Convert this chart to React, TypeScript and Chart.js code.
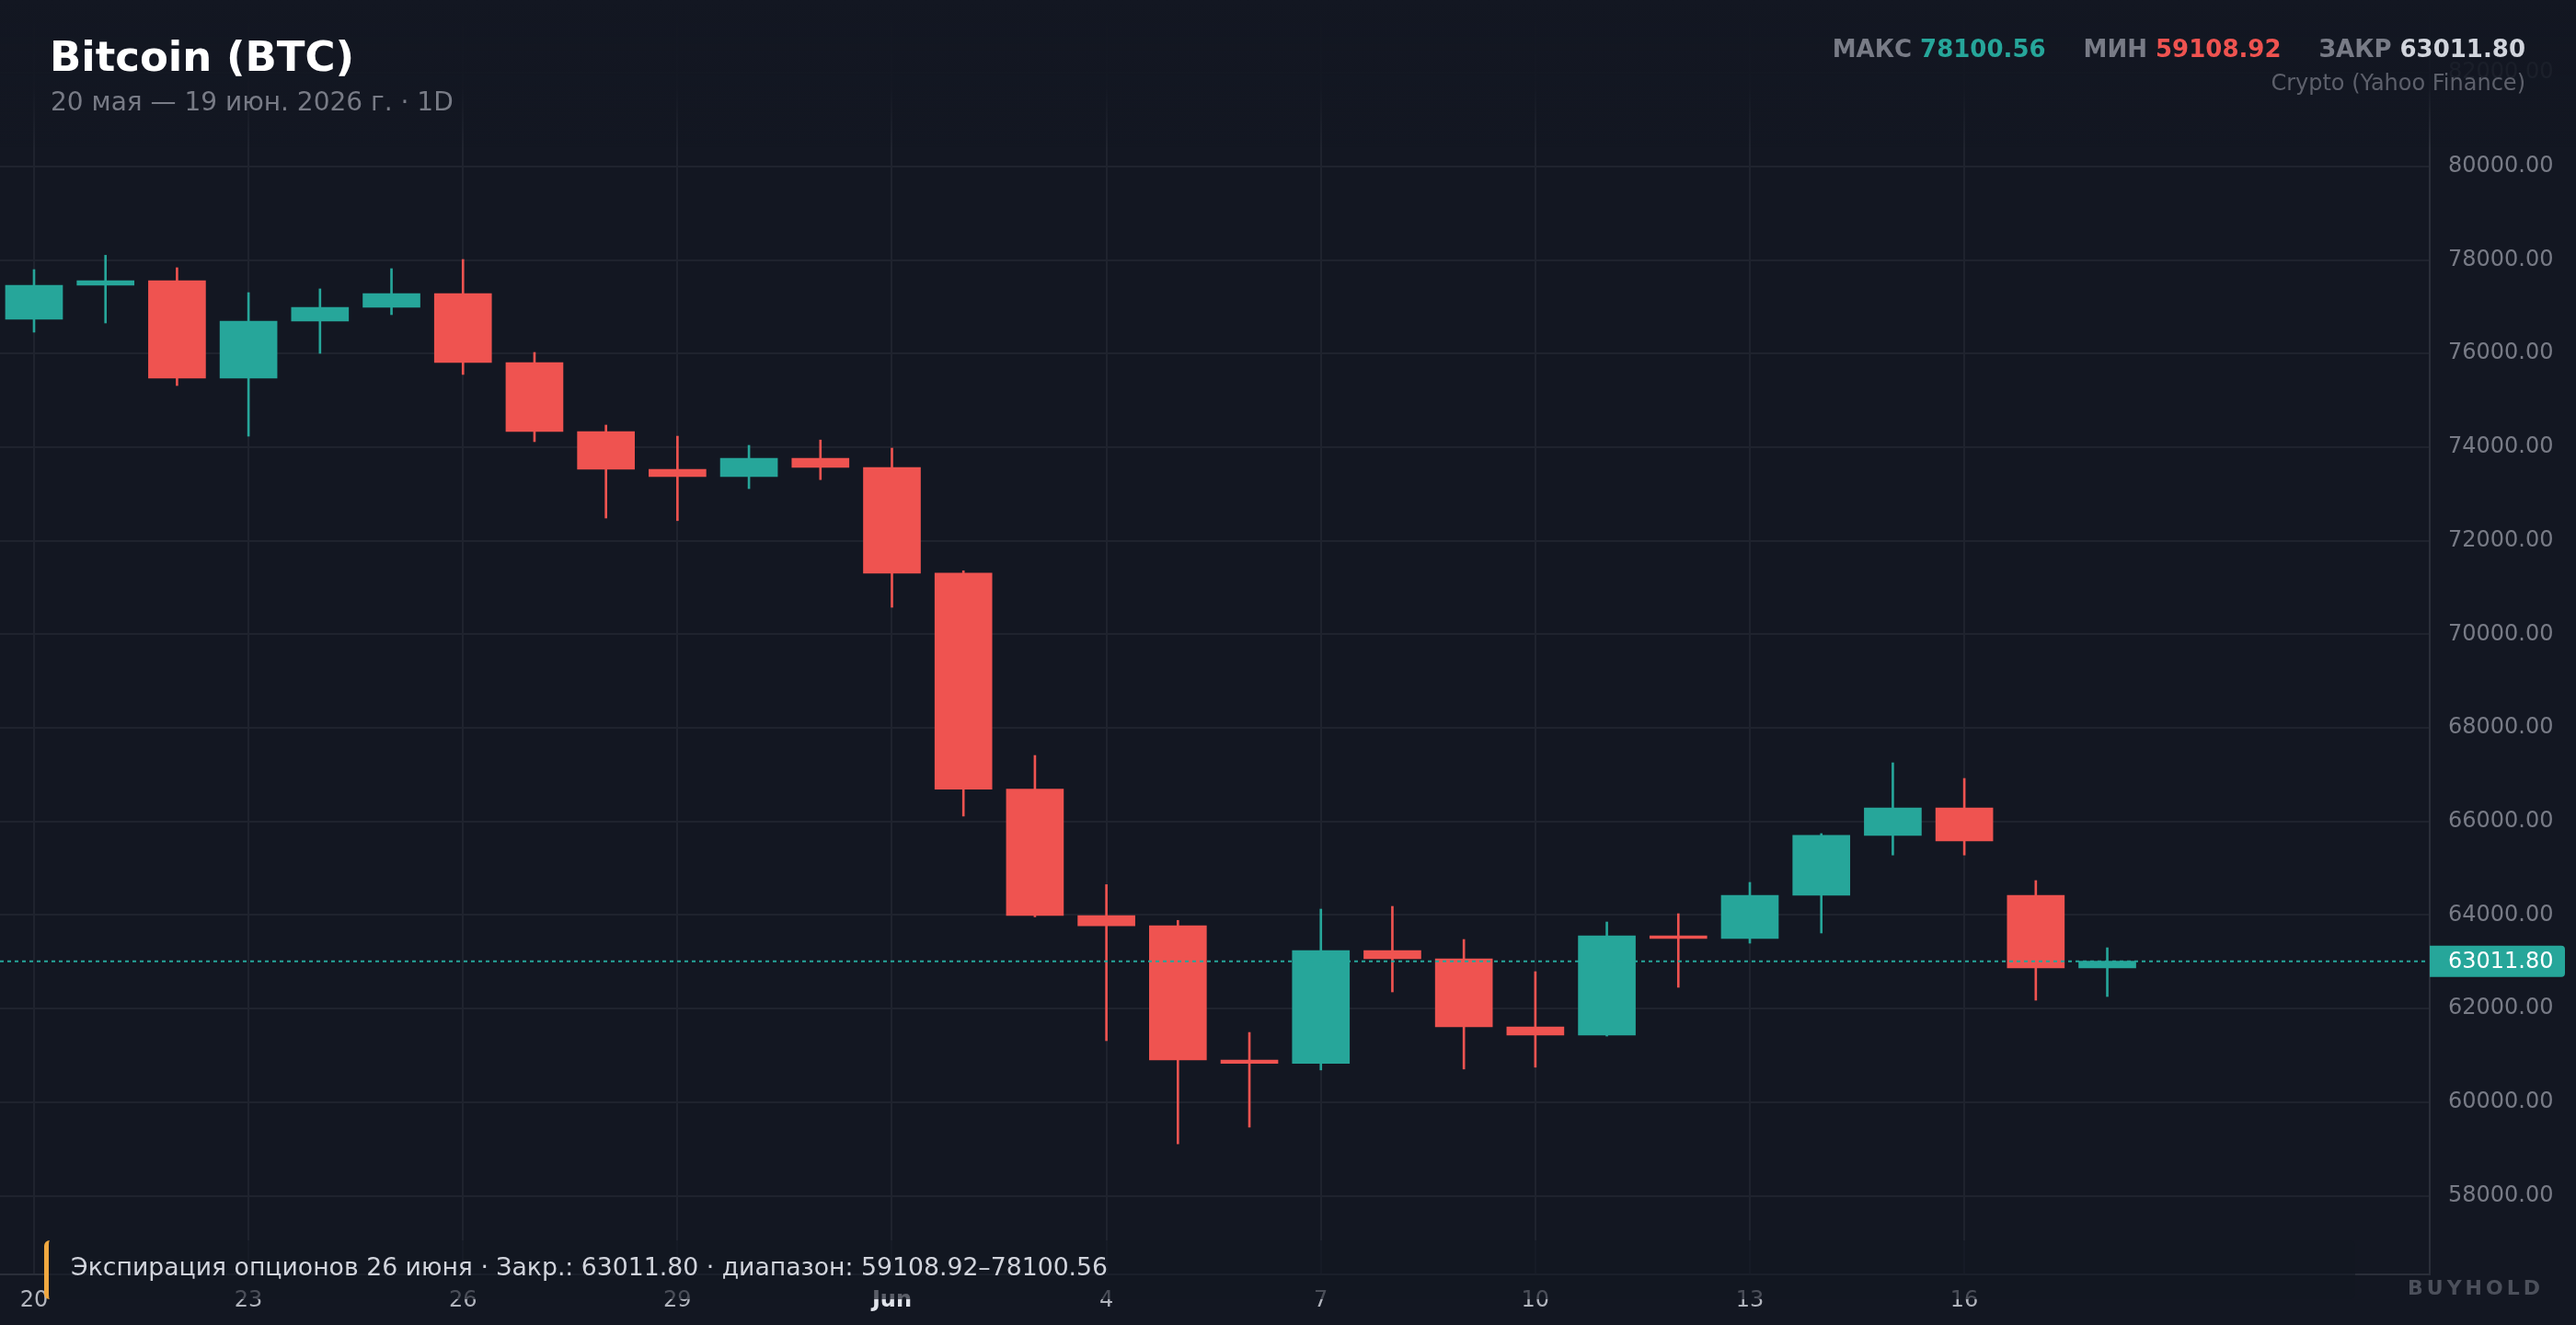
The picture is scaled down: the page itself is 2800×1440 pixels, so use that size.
import React, { useEffect, useRef } from "react";
import { Chart, registerables } from "chart.js";

Chart.register(...registerables);

// ---- Data ----
const dates = [
  "2026-05-20", "2026-05-21", "2026-05-22", "2026-05-23", "2026-05-24", "2026-05-25",
  "2026-05-26", "2026-05-27", "2026-05-28", "2026-05-29", "2026-05-30", "2026-05-31",
  "2026-06-01", "2026-06-02", "2026-06-03", "2026-06-04", "2026-06-05", "2026-06-06",
  "2026-06-07", "2026-06-08", "2026-06-09", "2026-06-10", "2026-06-11", "2026-06-12",
  "2026-06-13", "2026-06-14", "2026-06-15", "2026-06-16", "2026-06-17", "2026-06-18",
];
const opens = [
  76732, 77460, 77558, 75473, 76693, 76988, 77281, 75808, 74333, 73526,
  73369, 73760, 73566, 71306, 66690, 63988, 63770, 60901, 60830, 63241,
  63064, 61609, 61432, 63556, 63500, 64421, 65701, 66290, 64421, 62868,
];
const highs = [
  77794, 78100.56, 77834, 77302, 77382, 77814, 78011, 76024, 74471, 74234,
  74038, 74152, 73979, 71358, 67410, 64649, 63885, 61490, 64126, 64185,
  63477, 62789, 63851, 64028, 64697, 65740, 67253, 66919, 64736, 63300,
];
const lows = [
  76457, 76653, 75316, 74234, 76004, 76831, 75553, 74117, 72484, 72429,
  73113, 73305, 70577, 66112, 63960, 61314, 59108.92, 59466, 60688, 62356,
  60708, 60747, 61412, 62455, 63398, 63615, 65282, 65282, 62179, 62258,
];
const closes = [
  77460, 77558, 75473, 76693, 76988, 77281, 75808, 74333, 73526, 73369,
  73760, 73566, 71306, 66690, 63988, 63770, 60901, 60830, 63241, 63064,
  61609, 61432, 63556, 63500, 64421, 65701, 66290, 65583, 62868, 63011.8,
];

const tickIndices = [0, 3, 6, 9, 12, 15, 18, 21, 24, 27];
const tickLabels = ["20", "23", "26", "29", "Jun", "4", "7", "10", "13", "16"];
const yTicks = [58000, 60000, 62000, 64000, 66000, 68000, 70000, 72000, 74000, 76000, 78000, 80000, 82000];
const yMin = 56319;
const yMax = 83556;
const xMin = -0.476;
const xMax = 33.51;

const title = "Bitcoin (BTC)";
const subtitle = "20 мая — 19 июн. 2026 г. · 1D";
const source = "Crypto (Yahoo Finance)";

// ---- Styles ----
const BG = "#131722";
const UP = "#26a69a";
const DOWN = "#ef5350";
const GRID = "#1f232e";
const AXIS = "#2a2e39";
const TEXT_DIM = "#787b86";
const FONT = '"DejaVu Sans", sans-serif';

const maxHigh = Math.max(...highs);
const minLow = Math.min(...lows);
const lastClose = closes[closes.length - 1];

const closeLinePlugin = {
  id: "closeLine",
  afterDatasetsDraw(chart: any) {
    const { ctx, chartArea, scales } = chart;
    const py = scales.y.getPixelForValue(lastClose);
    ctx.save();
    ctx.strokeStyle = UP;
    ctx.lineWidth = 2;
    ctx.setLineDash([4, 4]);
    ctx.beginPath();
    ctx.moveTo(chartArea.left, py);
    ctx.lineTo(chartArea.right - 4, py);
    ctx.stroke();
    ctx.setLineDash([]);
    const x0 = chartArea.right;
    const w = 147;
    const h = 34;
    ctx.fillStyle = UP;
    ctx.beginPath();
    ctx.roundRect(x0, py - h / 2, w, h, [0, 4, 4, 0]);
    ctx.fill();
    ctx.fillStyle = "#ffffff";
    ctx.font = `24px ${FONT}`;
    ctx.textBaseline = "middle";
    ctx.textAlign = "left";
    ctx.fillText(lastClose.toFixed(2), x0 + 20, py + 1);
    ctx.restore();
  },
};

export default function App() {
  const ref = useRef<HTMLCanvasElement>(null);

  useEffect(() => {
    document.body.style.margin = "0";
    document.body.style.background = BG;
    const canvas = ref.current!;
    const colors = opens.map((o, i) => (closes[i] >= o ? UP : DOWN));
    const chart = new Chart(canvas, {
      type: "bar",
      data: {
        labels: dates,
        datasets: [
          {
            label: "body",
            data: opens.map((o, i) => ({ x: i, y: [o, closes[i]] })) as any,
            backgroundColor: colors,
            borderWidth: 0,
            barThickness: 62,
            grouped: false,
            order: 0,
          } as any,
          {
            label: "wick",
            data: lows.map((l, i) => ({ x: i, y: [l, highs[i]] })) as any,
            backgroundColor: colors,
            borderWidth: 0,
            barThickness: 2,
            grouped: false,
            order: 1,
          } as any,
        ],
      },
      options: {
        animation: false,
        responsive: false,
        devicePixelRatio: 1,
        layout: { padding: 0, autoPadding: false },
        plugins: { legend: { display: false }, tooltip: { enabled: false } },
        scales: {
          x: {
            type: "linear",
            position: "bottom",
            min: xMin,
            max: xMax,
            offset: false,
            afterBuildTicks: (s: any) => {
              s.ticks = tickIndices.map((v) => ({ value: v }));
            },
            afterFit: (s: any) => {
              s.height = 55;
              s.paddingLeft = 0;
              s.paddingRight = 0;
            },
            grid: { color: GRID, lineWidth: 2, drawTicks: false, offset: false },
            border: { color: AXIS, width: 2 },
            ticks: {
              padding: 14,
              autoSkip: false,
              maxRotation: 0,
              callback: (v: any) => {
                const k = tickIndices.indexOf(Number(v));
                return k >= 0 ? tickLabels[k] : "";
              },
              color: (c: any) => (c.tick && c.tick.label === "Jun" ? "#e0e3eb" : "#b2b5be"),
              font: (c: any) => ({
                family: FONT,
                size: 24,
                weight: c.tick && c.tick.label === "Jun" ? "bold" : "normal",
              }),
            },
          } as any,
          y: {
            type: "linear",
            position: "right",
            min: yMin,
            max: yMax,
            beginAtZero: false,
            afterBuildTicks: (s: any) => {
              s.ticks = yTicks.map((v) => ({ value: v }));
            },
            afterFit: (s: any) => {
              s.width = 159;
              s.paddingTop = 0;
              s.paddingBottom = 0;
            },
            grid: { color: GRID, lineWidth: 2, drawTicks: false },
            border: { color: AXIS, width: 2 },
            ticks: {
              padding: 20,
              autoSkip: false,
              color: TEXT_DIM,
              font: { family: FONT, size: 24 },
              callback: (v: any) => Number(v).toFixed(2),
            },
          } as any,
        },
      },
      plugins: [closeLinePlugin],
    });
    return () => chart.destroy();
  }, []);

  const abs = (o: React.CSSProperties): React.CSSProperties => ({
    position: "absolute",
    whiteSpace: "nowrap",
    lineHeight: 1,
    fontFamily: FONT,
    ...o,
  });

  return (
    <div
      style={{
        position: "relative",
        width: 2800,
        height: 1440,
        background: BG,
        overflow: "hidden",
        fontFamily: FONT,
      }}
    >
      <canvas
        ref={ref}
        width={2800}
        height={1440}
        style={{ position: "absolute", left: 0, top: 0, width: 2800, height: 1440, display: "block" }}
      />
      <div
        style={{
          position: "absolute",
          left: 0,
          top: 0,
          width: 2800,
          height: 160,
          background:
            "linear-gradient(to bottom, rgba(19,23,34,1) 0px, rgba(19,23,34,0.9) 95px, rgba(19,23,34,0.35) 135px, rgba(19,23,34,0) 160px)",
        }}
      />
      <div style={abs({ left: 54, top: 39, fontSize: 45, fontWeight: "bold", color: "#ffffff" })}>{title}</div>
      <div style={abs({ left: 55, top: 97, fontSize: 28, color: TEXT_DIM })}>{subtitle}</div>
      <div style={abs({ right: 55, top: 40, fontSize: 26, fontWeight: "bold", color: TEXT_DIM })}>
        <span>МАКС </span>
        <span style={{ color: UP }}>{maxHigh.toFixed(2)}</span>
        <span style={{ marginLeft: 41 }}>МИН </span>
        <span style={{ color: DOWN }}>{minLow.toFixed(2)}</span>
        <span style={{ marginLeft: 41 }}>ЗАКР </span>
        <span style={{ color: "#d1d4dc" }}>{lastClose.toFixed(2)}</span>
      </div>
      <div style={abs({ right: 55, top: 78, fontSize: 24, color: "#5d606b" })}>{source}</div>
      <div
        style={{
          position: "absolute",
          left: 48,
          top: 1348,
          width: 2512,
          height: 64,
          boxSizing: "border-box",
          borderLeft: "5px solid #f0a840",
          borderRadius: 6,
          background: "rgba(19,23,34,0.65)",
        }}
      />
      <div style={abs({ left: 77, top: 1364, fontSize: 26.7, color: "#d1d4dc" })}>
        {`Экспирация опционов 26 июня · Закр.: ${lastClose.toFixed(2)} · диапазон: ${minLow.toFixed(2)}–${maxHigh.toFixed(2)}`}
      </div>
      <div
        style={abs({
          right: 35,
          top: 1389,
          fontSize: 22,
          fontWeight: "bold",
          letterSpacing: 4,
          color: "#4c505b",
        })}
      >
        BUYHOLD
      </div>
    </div>
  );
}
